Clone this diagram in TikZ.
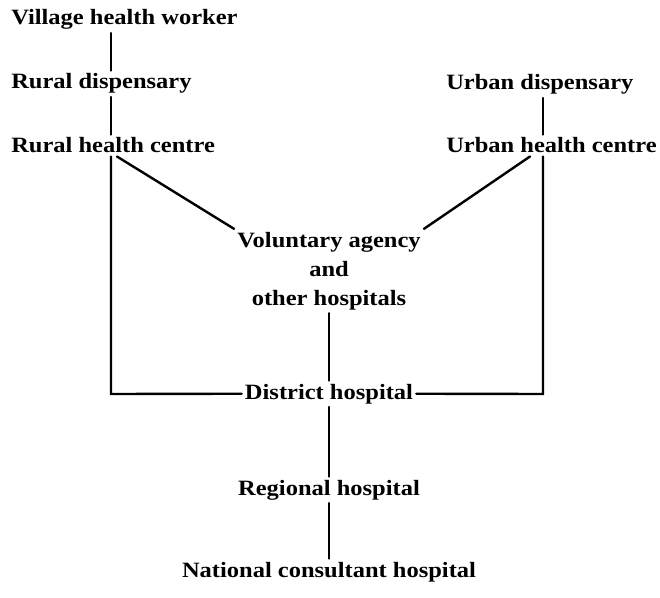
\documentclass[tikz,border=0pt]{standalone}
\usepackage{fontspec}
\setmainfont{Liberation Serif}[FakeStretch=1.12]
\usepackage{tikz}
\usetikzlibrary{calc}
\tikzset{
  levelbox/.style={inner sep=2.25pt,font=\fontsize{16.4}{21.75}\selectfont\bfseries},
  linkline/.style={line width=1.8pt,line cap=round,line join=miter}
}
\begin{document}
\begin{tikzpicture}[x=0.75pt,y=-0.75pt]
  \useasboundingbox (0,0) rectangle (660,598);
  % rural side
  \node[levelbox,anchor=base west] (vhw) at (8,25) {Village health worker};
  \node[levelbox,anchor=base west] (rd) at (8,89) {Rural dispensary};
  \node[levelbox,anchor=base west] (rhc) at (8,153) {Rural health centre};
  % urban side
  \node[levelbox,anchor=base west] (ud) at (443,90) {Urban dispensary};
  \node[levelbox,anchor=base west] (uhc) at (443,153) {Urban health centre};
  % middle column
  \node[levelbox,align=center] (vol) at (329,271) {Voluntary agency\\and\\other hospitals};
  \node[levelbox,anchor=base] (dh) at (329,399) {District hospital};
  \node[levelbox,anchor=base] (rh) at (329,495) {Regional hospital};
  \node[levelbox,anchor=base] (nch) at (329,577) {National consultant hospital};
  \coordinate (lspine) at (111,394);
  \coordinate (rspine) at (543,394);
  % connectors
  \draw[linkline] (vhw.south -| lspine) -- (rd.north -| lspine);
  \draw[linkline] (rd.south -| lspine) -- (rhc.north -| lspine);
  \draw[linkline] (rhc.south -| lspine) -- (lspine) -- (dh.west);
  \draw[linkline] (ud.south -| rspine) -- (uhc.north -| rspine);
  \draw[linkline] (uhc.south -| rspine) -- (rspine) -- (dh.east);
  \draw[linkline] ($(rhc.south -| lspine)+(6,0)$) -- (vol.north west);
  \draw[linkline] ($(uhc.south -| rspine)+(-13,0)$) -- (vol.north east);
  \draw[linkline] (vol.south) -- (dh.north);
  \draw[linkline] (dh.south) -- (rh.north);
  \draw[linkline] (rh.south) -- (nch.north);
\end{tikzpicture}
\end{document}
